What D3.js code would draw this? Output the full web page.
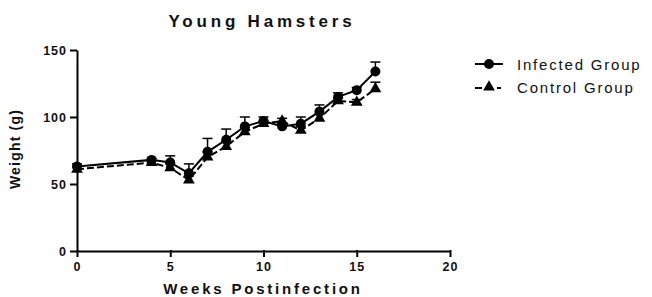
<!DOCTYPE html>
<html><head><meta charset="utf-8">
<script src="https://cdn.jsdelivr.net/npm/d3@7"></script>
<style>body{margin:0;background:#fff}svg{display:block}text{font-family:"Liberation Sans",Arial,sans-serif}</style>
</head><body><div id="chart"></div>
<script>
const weeks = [0, 4, 5, 6, 7, 8, 9, 10, 11, 12, 13, 14, 15, 16];
const infected = [63, 68, 66, 58, 74, 83, 93, 97, 93, 95, 104, 115, 120, 134];
const infectedErr = [2, 1, 5, 7, 10, 8, 7, 3, 2, 5, 5, 3, 2, 7];
const control = [61, 66, 62, 53, 70, 78, 89, 95, 97, 90, 99, 112, 111, 121];
const controlErr = [2, 1, 3, 3, 4, 4, 3, 2, 2, 3, 3, 2, 2, 5];
const xTicks = [0, 5, 10, 15, 20];
const yTicks = [0, 50, 100, 150];
const seriesNames = ["Infected Group", "Control Group"];

const W = 652, H = 297;
const svg = d3.select("#chart").append("svg").attr("width", W).attr("height", H);
const x = d3.scaleLinear().domain([0, 20]).range([77, 450]);
const y = d3.scaleLinear().domain([0, 150]).range([251, 50]);

// axes
const xAxis = svg.append("g").attr("transform", `translate(0,${y(0)})`)
  .call(d3.axisBottom(x).tickValues(xTicks).tickSize(6).tickSizeOuter(0));
const yAxis = svg.append("g").attr("transform", `translate(${x(0)},0)`)
  .call(d3.axisLeft(y).tickValues(yTicks).tickSize(7).tickSizeOuter(0));
[xAxis, yAxis].forEach(g => {
  g.select(".domain").attr("stroke", "#000").attr("stroke-width", 2);
  g.selectAll(".tick line").attr("stroke", "#000").attr("stroke-width", 2);
  g.selectAll(".tick text").attr("fill", "#111").attr("font-size", 12.5)
    .attr("font-weight", "bold").style("letter-spacing", "1px");
});
xAxis.selectAll(".tick line").attr("y1", -1);
xAxis.selectAll(".tick text").attr("dy", "0.85em");

// title & labels
svg.append("text").attr("x", 262).attr("y", 27).attr("text-anchor", "middle")
  .attr("font-size", 17).attr("font-weight", "bold").style("letter-spacing", "3.8px")
  .attr("fill", "#111").text("Young Hamsters");
svg.append("text").attr("x", 263).attr("y", 294).attr("text-anchor", "middle")
  .attr("font-size", 15).attr("font-weight", "bold").style("letter-spacing", "2.8px")
  .attr("fill", "#111").text("Weeks Postinfection");
svg.append("text").attr("transform", "translate(19.5,149) rotate(-90)").attr("text-anchor", "middle")
  .attr("font-size", 14).attr("font-weight", "bold").style("letter-spacing", "1.2px")
  .attr("fill", "#111").text("Weight (g)");

const line = vals => d3.line().x((d, i) => x(weeks[i])).y(d => y(d))(vals);
const tri = d3.symbol().type(d3.symbolTriangle).size(60);
const circ = d3.symbol().type(d3.symbolCircle).size(78);

function errBars(vals, errs) {
  const g = svg.append("g").attr("stroke", "#000").attr("stroke-width", 1.5);
  weeks.forEach((w, i) => {
    const cx = x(w), y0 = y(vals[i]), y1 = y(vals[i] + errs[i]);
    g.append("line").attr("x1", cx).attr("x2", cx).attr("y1", y0).attr("y2", y1);
    g.append("line").attr("x1", cx - 5).attr("x2", cx + 5).attr("y1", y1).attr("y2", y1);
  });
}
errBars(control, controlErr);
errBars(infected, infectedErr);

svg.append("path").attr("d", line(control)).attr("fill", "none").attr("stroke", "#000")
  .attr("stroke-width", 2).attr("stroke-dasharray", "7,3");
svg.append("path").attr("d", line(infected)).attr("fill", "none").attr("stroke", "#000")
  .attr("stroke-width", 2);

svg.append("g").selectAll("path").data(control).join("path")
  .attr("d", tri).attr("transform", (d, i) => `translate(${x(weeks[i])},${y(d)})`).attr("fill", "#000");
svg.append("g").selectAll("path").data(infected).join("path")
  .attr("d", circ).attr("transform", (d, i) => `translate(${x(weeks[i])},${y(d)})`).attr("fill", "#000");

// legend
const lg = svg.append("g");
lg.append("line").attr("x1", 475).attr("x2", 503).attr("y1", 64).attr("y2", 64).attr("stroke", "#000").attr("stroke-width", 2);
lg.append("path").attr("d", circ).attr("transform", "translate(489,64)");
lg.append("line").attr("x1", 475).attr("x2", 503).attr("y1", 88).attr("y2", 88).attr("stroke", "#000")
  .attr("stroke-width", 2).attr("stroke-dasharray", "7,15,4");
lg.append("path").attr("d", tri).attr("transform", "translate(489,87)");
lg.append("text").attr("x", 517).attr("y", 69.5).attr("font-size", 15).style("letter-spacing", "1.8px")
  .attr("fill", "#111").text(seriesNames[0]);
lg.append("text").attr("x", 517).attr("y", 93).attr("font-size", 15).style("letter-spacing", "1.8px")
  .attr("fill", "#111").text(seriesNames[1]);
</script></body></html>
